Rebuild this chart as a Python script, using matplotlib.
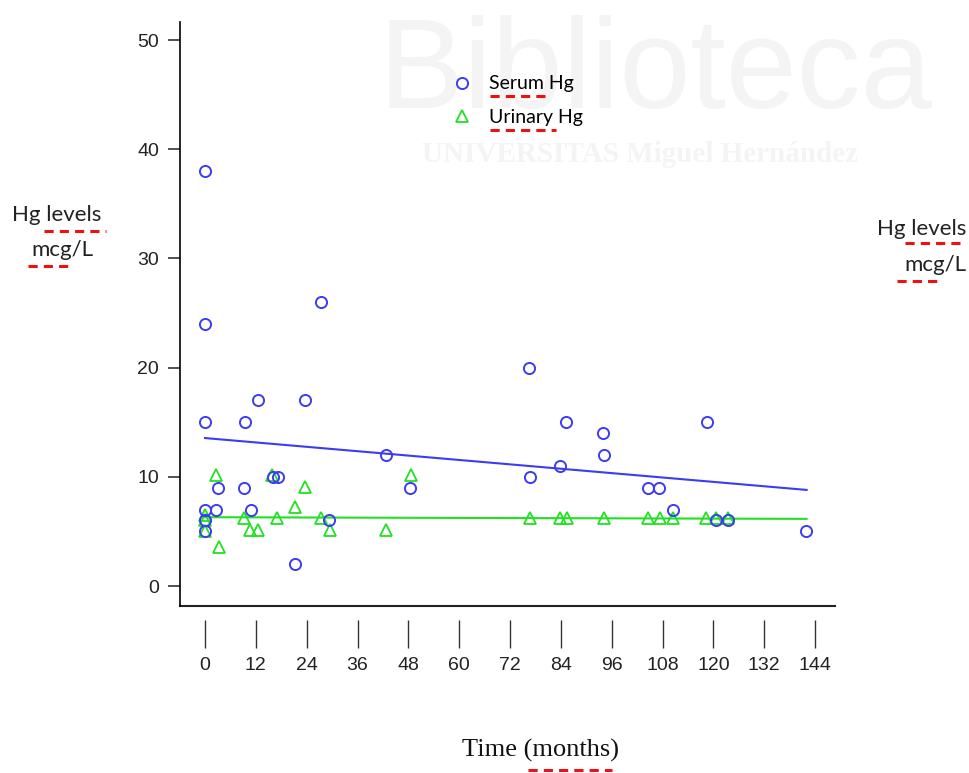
import matplotlib
matplotlib.use("Agg")
from matplotlib import pyplot as plt
from matplotlib.lines import Line2D

# Serum Hg (blue circles)
serum_months = [0, 0, 0, 0, 0, 0, 2.6, 3, 9.4, 9.2, 10.8, 12.5, 16, 17.2, 21.3, 23.6,
                27.4, 29.3, 42.7, 48.4, 76.5, 76.7, 83.8, 85.2, 94, 94.2, 104.6,
                107.2, 110.5, 118.5, 120.6, 123.5, 141.9]
serum_hg = [38, 24, 15, 7, 6, 5, 7, 9, 15, 9, 7, 17, 10, 10, 2, 17,
            26, 6, 12, 9, 20, 10, 11, 15, 14, 12, 9,
            9, 7, 15, 6, 6, 5]

# Urinary Hg (green triangles)
urine_months = [0, 0, 0, 2.6, 3.3, 9.2, 10.6, 12.5, 15.8, 17, 21.3, 23.6, 27.4,
                29.5, 42.7, 48.6, 76.7, 83.8, 85.4, 94.2, 104.6, 107.4, 110.5,
                118.3, 120.6, 123.5]
urine_hg = [6.5, 6, 5, 10.2, 3.6, 6.2, 5.1, 5.1, 10.2, 6.2, 7.2, 9.1, 6.2,
            5.1, 5.1, 10.2, 6.2, 6.2, 6.2, 6.2, 6.2, 6.2, 6.2,
            6.2, 6.2, 6.2]

# trend lines
fit_months = [0, 142]
serum_fit = [13.55, 8.8]
urine_fit = [6.3, 6.15]

blue = '#3c3cf0'
green = '#22e022'
W, H = 970, 773

fig = plt.figure(figsize=(9.7, 7.73), dpi=100)

# faint watermark behind everything
fig.text(655/W, 1-75/H, 'Biblioteca', fontsize=92, color='#f4f4f4',
         ha='center', va='center', family='Liberation Sans', zorder=-5)
fig.text(640/W, 1-155/H, 'UNIVERSITAS Miguel Hernández', fontsize=21, color='#f4f4f4',
         ha='center', va='center', family='Liberation Serif', fontweight='bold', zorder=-5)

ax = fig.add_axes([180/W, 1-606/H, 655/W, 584/H])
ax.patch.set_alpha(0)

ax.plot(fit_months, serum_fit, color=blue, lw=1.5)
ax.plot(fit_months, urine_fit, color=green, lw=1.5)
ax.plot(urine_months, urine_hg, linestyle='none', marker='^', ms=9,
        mfc='none', mec=green, mew=1.3, label='Urinary Hg')
ax.plot(serum_months, serum_hg, linestyle='none', marker='o', ms=8,
        mfc='none', mec=blue, mew=1.4, label='Serum Hg')

ax.set_xlim(-5.9, 148.7)
ax.set_ylim(-1.83, 51.65)
ax.set_xticks(range(0, 145, 12))
ax.set_yticks(range(0, 51, 10))

ax.spines['top'].set_visible(False)
ax.spines['right'].set_visible(False)
ax.spines['left'].set_linewidth(1.2)
ax.spines['bottom'].set_position(('outward', 10))
ax.spines['bottom'].set_visible(False)
ax.plot([0, 1], [0, 0], transform=ax.transAxes, color='#222222', lw=1.5, clip_on=False)

ax.tick_params(axis='x', direction='out', length=20, width=1, color='#333333',
               pad=7, labelsize=14, labelcolor='#222222')
ax.tick_params(axis='y', direction='out', length=9, width=1.2, color='#333333',
               pad=6, labelsize=14, labelcolor='#222222')
for lab in ax.get_xticklabels() + ax.get_yticklabels():
    lab.set_family('Liberation Sans')

handles, labels = ax.get_legend_handles_labels()
leg = ax.legend(handles[::-1], labels[::-1], loc='upper left',
                bbox_to_anchor=(435/W, 1-58/H), bbox_transform=fig.transFigure,
                frameon=False, handlelength=1.0, handletextpad=0.9,
                labelspacing=0.85, prop={'family': 'Lato', 'size': 14})

txt = dict(family='Lato', fontsize=16, color='#222222', va='center')
fig.text(57/W, 1-215/H, 'Hg levels', ha='center', **txt)
fig.text(62/W, 1-250/H, 'mcg/L', ha='center', **txt)
fig.text(966/W, 1-229/H, 'Hg levels', ha='right', **txt)
fig.text(966/W, 1-265/H, 'mcg/L', ha='right', **txt)

fig.text(540/W, 1-750/H, 'Time (months)', ha='center', va='center',
         family='Liberation Serif', fontsize=19, color='#111111')

# red spell-check underlines
squiggles = [(490, 550, 96), (490, 556, 130), (44, 106, 231), (28, 72, 266),
             (905, 966, 243), (897, 942, 281), (528, 612, 770)]
for x0, x1, y in squiggles:
    fig.add_artist(Line2D([x0/W, x1/W], [1-y/H, 1-y/H], transform=fig.transFigure,
                          color='#ee1111', lw=2.2, dashes=(3, 2)))

fig.savefig('out.png', dpi=100)
